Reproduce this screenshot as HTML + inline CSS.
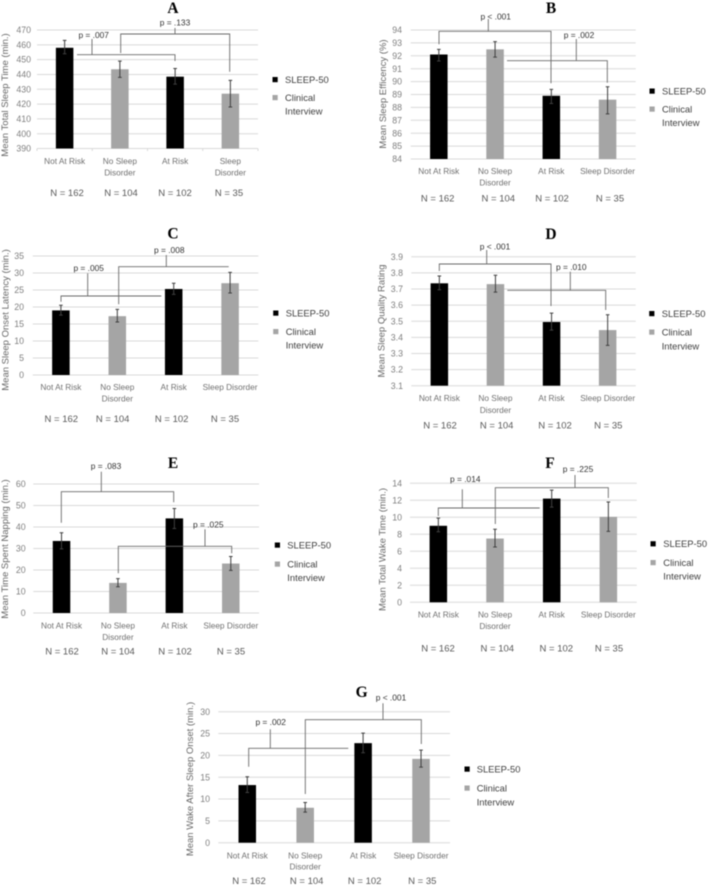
<!DOCTYPE html>
<html lang="en">
<head>
<meta charset="utf-8">
<title>Sleep measures by SLEEP-50 and clinical interview groups</title>
<style>
html,body{margin:0;padding:0;background:#fff;width:708px;height:886px;overflow:hidden}
svg{display:block;filter:blur(0.4px);font-family:"Liberation Sans",sans-serif}
</style>
</head>
<body>
<svg id="fig" xmlns="http://www.w3.org/2000/svg" width="708" height="886" viewBox="0 0 708 886"></svg>
<script>
// ---- data ----
const categoriesWrapped = [["Not At Risk"], ["No Sleep", "Disorder"], ["At Risk"], ["Sleep", "Disorder"]];
const categories = [["Not At Risk"], ["No Sleep", "Disorder"], ["At Risk"], ["Sleep Disorder"]];
const sampleLabels = ["N = 162", "N = 104", "N = 102", "N = 35"];
const categorySeries = [0, 1, 0, 1];
const seriesNames = [["SLEEP-50"], ["Clinical", "Interview"]];

const ticksA = [390, 400, 410, 420, 430, 440, 450, 460, 470];
const valuesA = [458, 443.5, 438.5, 427];
const errHighA = [463, 449, 444, 436];
const errLowA = [454, 438, 433.5, 418];

const ticksB = [84, 85, 86, 87, 88, 89, 90, 91, 92, 93, 94];
const valuesB = [92.1, 92.5, 88.9, 88.6];
const errHighB = [92.5, 93.1, 89.4, 89.6];
const errLowB = [91.6, 91.9, 88.3, 87.5];

const ticksC = [0, 5, 10, 15, 20, 25, 30, 35];
const valuesC = [19, 17.3, 25.3, 27];
const errHighC = [20.5, 19.3, 27, 30.2];
const errLowC = [17.6, 15.6, 23.7, 24.1];

const ticksD = [3.1, 3.2, 3.3, 3.4, 3.5, 3.6, 3.7, 3.8, 3.9];
const valuesD = [3.735, 3.73, 3.495, 3.445];
const errHighD = [3.78, 3.785, 3.55, 3.54];
const errLowD = [3.695, 3.68, 3.445, 3.35];

const ticksE = [0, 10, 20, 30, 40, 50, 60];
const valuesE = [33.5, 14, 44, 23];
const errHighE = [37.3, 16, 48.6, 26.3];
const errLowE = [29.8, 12.2, 39.3, 19.8];

const ticksF = [0, 2, 4, 6, 8, 10, 12, 14];
const valuesF = [9, 7.5, 12.2, 10.05];
const errHighF = [9.9, 8.6, 13.2, 11.8];
const errLowF = [8.3, 6.5, 11.2, 8.35];

const ticksG = [0, 5, 10, 15, 20, 25, 30];
const valuesG = [13.2, 8, 22.8, 19.2];
const errHighG = [15.1, 9.2, 25.1, 21.2];
const errLowG = [11.5, 7, 20.6, 17.3];

// ---- panel layout and annotations ----
const panels = [
  {id:"A", title:"Mean Total Sleep Time (min.)", ticks:ticksA, values:valuesA, hi:errHighA, lo:errLowA, cats:categoriesWrapped, tickMarks:true,
   box:{l:37,r:258,t:30,b:148.5}, tickX:31, titleX:5.5, titleY:95, catY:[161,172.5], nY:192.5, nX:[67,121,175,229],
   head:[173,8], leg:{sq:275,tx:285,y:[79.5,97.5,111]},
   br:[{line:"77,54.7 175,54.7 175,61", stem:"92,54.7 92,39", label:"p = .007", lx:93.7, ly:35},
       {line:"120.7,53 120.7,34 229.7,34 229.7,71.7", stem:"175,34 175,28", label:"p = .133", lx:175, ly:22.5}]},
  {id:"B", title:"Mean Sleep Efficency (%)", ticks:ticksB, values:valuesB, hi:errHighB, lo:errLowB, cats:categories,
   box:{l:410.7,r:635.7,t:30,b:159}, tickX:402, titleX:383.5, titleY:94, catY:[171,182.7], nY:198, nX:[437.7,498.3,552,610],
   head:[551,8], leg:{sq:652,tx:662,y:[91,109,122.5]},
   br:[{line:"439,44.3 439,31.3 551,31.3 551,83.3", stem:"488.3,31.3 488.3,19", label:"p < .001", lx:495.7, ly:16.7},
       {line:"507,60.7 607.3,60.7 607.3,82.7", stem:"576.3,60.7 576.3,39", label:"p = .002", lx:579, ly:35}]},
  {id:"C", title:"Mean Sleep Onset Latency (min.)", ticks:ticksC, values:valuesC, hi:errHighC, lo:errLowC, cats:categories,
   box:{l:32.7,r:258.3,t:256,b:375}, tickX:24, titleX:6, titleY:320, catY:[387,398.5], nY:418.5, nX:[61.3,112.7,171.7,225],
   head:[173,233.5], leg:{sq:275.7,tx:285.7,y:[313,331.5,345]},
   br:[{line:"61,301.7 61,296 161.3,296", stem:"87.7,296 87.7,273.3", label:"p = .005", lx:88.7, ly:268},
       {line:"118.7,304.3 118.7,266.7 228.7,266.7", stem:"166.3,266.7 166.3,255", label:"p = .008", lx:169.3, ly:250}]},
  {id:"D", title:"Mean Sleep Quality Rating", ticks:ticksD, values:valuesD, hi:errHighD, lo:errLowD, cats:categories,
   box:{l:411.3,r:635.7,t:256.7,b:385.7}, tickX:403, titleX:382, titleY:321, catY:[398,410], nY:425, nX:[440,496.7,555,608.3],
   head:[551,234], leg:{sq:651.7,tx:661.7,y:[313.5,332,346]},
   br:[{line:"439.3,271 439.3,264 551,264 551,306", stem:"486.7,264 486.7,250", label:"p < .001", lx:495, ly:246.7},
       {line:"507.3,290.3 605.7,290.3 605.7,310", stem:"570.3,290.3 570.3,271.7", label:"p = .010", lx:571.3, ly:267}]},
  {id:"E", title:"Mean Time Spent Napping (min.)", ticks:ticksE, values:valuesE, hi:errHighE, lo:errLowE, cats:categories,
   box:{l:33.3,r:259,t:484,b:613}, tickX:25.7, titleX:5.7, titleY:549, catY:[625.5,637], nY:651, nX:[62,118,175,231],
   head:[173,463], leg:{sq:277.3,tx:287.3,y:[545,564,577.5]},
   br:[{line:"61.3,522.7 61.3,491.7 173.7,491.7 173.7,502.3", stem:"101.3,491.7 101.3,471.7", label:"p = .083", lx:106, ly:466},
       {line:"118.3,573.3 118.3,546.3 231.7,546.3 231.7,553.3", stem:"205,546.3 205,529.3", label:"p = .025", lx:208.3, ly:524.7}]},
  {id:"F", title:"Mean Total Wake Time (min.)", ticks:ticksF, values:valuesF, hi:errHighF, lo:errLowF, cats:categories,
   box:{l:410,r:636.7,t:483.3,b:602.3}, tickX:402, titleX:383, titleY:549.5, catY:[614.7,626], nY:648, nX:[438,497.3,556.3,609],
   head:[550,463], leg:{sq:653,tx:663.3,y:[543.7,562.5,576]},
   br:[{line:"438.3,516 438.3,508 539.7,508", stem:"462.3,508 462.3,489.3", label:"p = .014", lx:465.3, ly:479},
       {line:"495.3,524 495.3,487.7 608.3,487.7 608.3,498", stem:"575,487.7 575,475", label:"p = .225", lx:578, ly:469.3}]},
  {id:"G", title:"Mean Wake After Sleep Onset (min.)", ticks:ticksG, values:valuesG, hi:errHighG, lo:errLowG, cats:categories,
   box:{l:218.3,r:450,t:711.7,b:842.7}, tickX:210, titleX:190.7, titleY:779, catY:[855.7,866.7], nY:880.7, nX:[249,306.7,364.7,422.3],
   head:[361.7,692], leg:{sq:467,tx:476.7,y:[769,788,802]},
   br:[{line:"248.7,766.7 248.7,748.3 348.3,748.3", stem:"270.3,748.3 270.3,729.3", label:"p = .002", lx:270.7, ly:722.3},
       {line:"305.3,794 305.3,719.7 421.3,719.7 421.3,744", stem:"383,719.7 383,703.3", label:"p < .001", lx:391, ly:697.7}]}
];

const seriesColors = ["#000000", "#a5a5a5"];
const NS = "http://www.w3.org/2000/svg";
const root = document.getElementById("fig");

function mk(parent, tag, attrs, text) {
  const el = document.createElementNS(NS, tag);
  for (const k in attrs) el.setAttribute(k, attrs[k]);
  if (text !== undefined) el.textContent = text;
  parent.appendChild(el);
  return el;
}
function label(parent, x, y, str, size, color, anchor) {
  return mk(parent, "text", {x:x, y:y + size * 0.35, "font-size":size, fill:color, "text-anchor":anchor || "middle"}, str);
}

panels.forEach(function (p) {
  const key = p.id.toLowerCase();
  const g = mk(root, "g", {});
  
  

  const yMin = p.ticks[0], yMax = p.ticks[p.ticks.length - 1];
  const yScale = function (v) { return p.box.b - (v - yMin) / (yMax - yMin) * (p.box.b - p.box.t); };
  const band = (p.box.r - p.box.l) / p.values.length;
  const xScale = function (i) { return p.box.l + band * (i + 0.5); };

  // panel letter
  const head = mk(g, "text", {x:p.head[0], y:p.head[1] + 5, "font-size":15.5, "font-weight":"bold", "font-family":'"Liberation Serif",serif', fill:"#000", "text-anchor":"middle"}, p.id);
  
  

  // gridlines and tick labels
  p.ticks.forEach(function (t) {
    const y = yScale(t);
    const grid = mk(g, "line", {x1:p.box.l, x2:p.box.r, y1:y, y2:y, stroke:"#d9d9d9", "stroke-width":1});
    
    
    const tl = label(g, p.tickX, y, String(t), 8.8, "#7f7f7f", "end");
    
    
  });

  if (p.tickMarks) {
    for (let i = 0; i <= p.values.length; i++) {
      const tx = p.box.l + band * i;
      const tm = mk(g, "line", {x1:tx, x2:tx, y1:p.box.b, y2:p.box.b + 2.5, stroke:"#d9d9d9", "stroke-width":1});
      
      
    }
  }

  // y axis title
  const yt = mk(g, "text", {x:p.titleX, y:p.titleY, "font-size":9.5, fill:"#666", "text-anchor":"middle", "dominant-baseline":"central", transform:"rotate(-90 " + p.titleX + " " + p.titleY + ")"}, p.title);
  
  

  // bars + error bars + labels
  p.values.forEach(function (v, i) {
    const cx = xScale(i), w = 17.5;
    const bar = mk(g, "rect", {x:cx - w / 2, y:yScale(v), width:w, height:p.box.b - yScale(v), fill:seriesColors[categorySeries[i]]});
    
    

    const eh = yScale(p.hi[i]), el = yScale(p.lo[i]);
    const ebar = mk(g, "path", {d:"M" + (cx - 1.8) + " " + eh + "H" + (cx + 1.8) + "M" + cx + " " + eh + "V" + el + "M" + (cx - 1.8) + " " + el + "H" + (cx + 1.8), stroke:"#3f3f3f", "stroke-width":1, fill:"none"});
    
    

    p.cats[i].forEach(function (line, j) {
      const cl = label(g, cx, p.catY[j], line, 8.3, "#707070");
      
      
    });

    const nl = label(g, p.nX[i], p.nY, sampleLabels[i], 9.5, "#595959");
    
    
  });

  // significance brackets
  p.br.forEach(function (b, i) {
    const ln = mk(g, "polyline", {points:b.line, fill:"none", stroke:"#6a6a6a", "stroke-width":0.9});
    
    
    const st = mk(g, "polyline", {points:b.stem, fill:"none", stroke:"#6a6a6a", "stroke-width":0.9});
    
    
    const pl = label(g, b.lx, b.ly, b.label, 8.4, "#333");
    
    
  });

  // legend
  const s0 = mk(g, "rect", {x:p.leg.sq - 2.5, y:p.leg.y[0] - 2.5, width:5.2, height:5.2, fill:seriesColors[0]});
  
  
  const t0 = label(g, p.leg.tx, p.leg.y[0], seriesNames[0][0], 9.4, "#404040", "start");
  
  
  const s1 = mk(g, "rect", {x:p.leg.sq - 2.5, y:p.leg.y[1] - 2.5, width:5.2, height:5.2, fill:seriesColors[1]});
  
  
  const t1 = label(g, p.leg.tx, p.leg.y[1], seriesNames[1][0], 9.4, "#404040", "start");
  
  
  const t2 = label(g, p.leg.tx, p.leg.y[2], seriesNames[1][1], 9.4, "#404040", "start");
  
  
});
</script>
</body>
</html>
